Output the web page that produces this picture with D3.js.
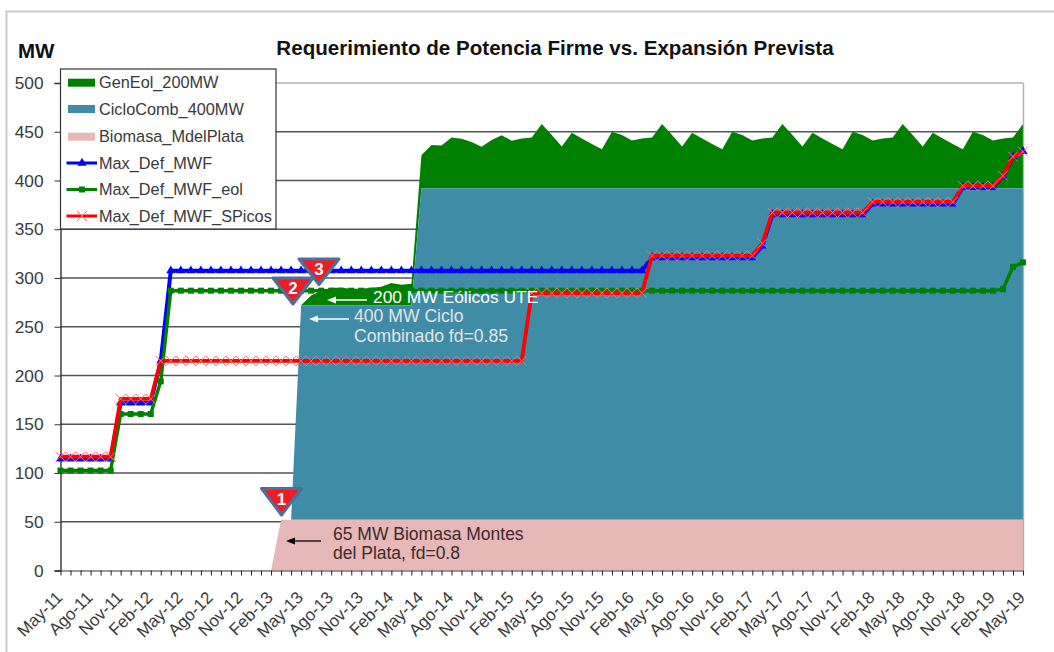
<!DOCTYPE html>
<html><head><meta charset="utf-8">
<script src="https://cdn.jsdelivr.net/npm/d3@7"></script>
<style>html,body{margin:0;padding:0;background:#fff}svg{display:block}text{font-family:"Liberation Sans",Arial,sans-serif}</style>
</head><body><svg id="c" width="1054" height="652"></svg>
<script>
const tickLabels=["May-11","Ago-11","Nov-11","Feb-12","May-12","Ago-12","Nov-12","Feb-13","May-13","Ago-13","Nov-13","Feb-14","May-14","Ago-14","Nov-14","Feb-15","May-15","Ago-15","Nov-15","Feb-16","May-16","Ago-16","Nov-16","Feb-17","May-17","Ago-17","Nov-17","Feb-18","May-18","Ago-18","Nov-18","Feb-19","May-19"];
const biomasa=[0,0,0,0,0,0,0,0,0,0,0,0,0,0,0,0,0,0,0,0,0,0,52,52,52,52,52,52,52,52,52,52,52,52,52,52,52,52,52,52,52,52,52,52,52,52,52,52,52,52,52,52,52,52,52,52,52,52,52,52,52,52,52,52,52,52,52,52,52,52,52,52,52,52,52,52,52,52,52,52,52,52,52,52,52,52,52,52,52,52,52,52,52,52,52,52,52];
const ciclo=[0,0,0,0,0,0,0,0,0,0,0,0,0,0,0,0,0,0,0,0,0,0,0,0,220,220,220,220,220,220,220,220,220,220,220,220,340,340,340,340,340,340,340,340,340,340,340,340,340,340,340,340,340,340,340,340,340,340,340,340,340,340,340,340,340,340,340,340,340,340,340,340,340,340,340,340,340,340,340,340,340,340,340,340,340,340,340,340,340,340,340,340,340,340,340,340,340];
const genEol=[0,0,0,0,0,0,0,0,0,0,0,0,0,0,0,0,0,0,0,0,0,0,0,0,0,10,15,18,18,17,17,18,19,23,21,22,34,44.5,44,52,50.7,47.5,42.7,49.5,54.5,48.8,51,52,66,54.6,43,57,51,45.5,40,58,54.6,49,51,52,66,54.6,43,57,51,45.5,40,58,54.6,49,51,52,66,54.6,43,57,51,45.5,40,58,54.6,49,51,52,66,54.6,43,57,51,45.5,40,58,54.6,49,51,52,66];
const maxDef=[114.5,114.5,114.5,114.5,114.5,114.5,172,172,172,172,215,307.5,307.5,307.5,307.5,307.5,307.5,307.5,307.5,307.5,307.5,307.5,307.5,307.5,307.5,307.5,307.5,307.5,307.5,307.5,307.5,307.5,307.5,307.5,307.5,307.5,307.5,307.5,307.5,307.5,307.5,307.5,307.5,307.5,307.5,307.5,307.5,307.5,307.5,307.5,307.5,307.5,307.5,307.5,307.5,307.5,307.5,307.5,307.5,321,321,321,321,321,321,321,321,321,321,321,333,365,365,365,365,365,365,365,365,365,365,376,376,376,376,376,376,376,376,376,393,393,393,393,404,424,430];
const maxDefEol=[102.5,102.5,102.5,102.5,102.5,102.5,160.5,160.5,160.5,160.5,194,287,287,287,287,287,287,287,287,287,287,287,287,287,287,287,287,287,287,287,287,287,287,287,287,287,287,287,287,287,287,287,287,287,287,287,287,287,287,287,287,287,287,287,287,287,287,287,287,287,287,287,287,287,287,287,287,287,287,287,287,287,287,287,287,287,287,287,287,287,287,287,287,287,287,287,287,287,287,287,287,287,287,287,288.5,311.5,316];
const maxDefSPicos=[116.7,116.7,116.7,116.7,116.7,116.7,176,176,176,176,215,215,215,215,215,215,215,215,215,215,215,215,215,215,215,215,215,215,215,215,215,215,215,215,215,215,215,215,215,215,215,215,215,215,215,215,215,284.5,284.5,284.5,284.5,284.5,284.5,284.5,284.5,284.5,284.5,284.5,284.5,323,323,323,323,323,323,323,323,323,323,323,335.5,367,367,367,367,367,367,367,367,367,367,378,378,378,378,378,378,378,378,378,394.5,394.5,394.5,394.5,405,424.5,429.6];
const yTicks=[0,50,100,150,200,250,300,350,400,450,500];
const legendNames=["GenEol_200MW","CicloComb_400MW","Biomasa_MdelPlata","Max_Def_MWF","Max_Def_MWF_eol","Max_Def_MWF_SPicos"];

const GREEN="#008000",TEAL="#3f8ca6",PINK="#e6b8b7",BLUE="#0000ff",RED="#ff0000",TXT="#3a3a3a";
const svg=d3.select("#c");
const x=d3.scaleLinear().domain([0,96]).range([60.5,1023]);
const y=d3.scaleLinear().domain([0,500]).range([570.5,83]);
const idx=d3.range(97);

svg.append("path").attr("d","M6.5,652V11.5H1054").attr("fill","none").attr("stroke","#cccccc").attr("stroke-width",2);

svg.append("g").selectAll("line").data(yTicks.filter(d=>d>0)).join("line")
 .attr("x1",x(0)).attr("x2",x(96)).attr("y1",d=>y(d)).attr("y2",d=>y(d))
 .attr("stroke",d=>d==500?"#b0b0b0":"#555").attr("stroke-width",1.4);

const stack=d3.stack().keys([0,1,2]).value((i,k)=>[biomasa,ciclo,genEol][k][i]);
const layers=stack(idx);
const area=d3.area().x(d=>x(d.data)).y0(d=>y(d[0])).y1(d=>y(d[1]));
const colors=[PINK,TEAL,GREEN];
[2,1,0].forEach(k=>svg.append("path").attr("d",area(layers[k])).attr("fill",colors[k]));

svg.append("line").attr("x1",1023.5).attr("x2",1023.5).attr("y1",83).attr("y2",570).attr("stroke","#b0b0b0").attr("stroke-width",1.4);

const yAxis=d3.axisLeft(y).tickValues(yTicks).tickSize(6).tickPadding(11);
const gy=svg.append("g").attr("transform",`translate(${x(0)},0)`).call(yAxis);
gy.select(".domain").attr("stroke","#222").attr("stroke-width",1.3);
gy.selectAll(".tick line").attr("stroke","#333");
gy.selectAll("text").attr("font-size",17.3).attr("fill",TXT).style("font-family",'"Liberation Sans"');
const xAxis=d3.axisBottom(x).tickValues(d3.range(0,97)).tickSize(5).tickSizeOuter(0).tickFormat(()=>"");
const gx=svg.append("g").attr("transform",`translate(0,${y(0)})`).call(xAxis);
gx.select(".domain").attr("stroke","#777").attr("stroke-width",1.6);
gx.selectAll(".tick line").attr("stroke","#222");
svg.append("g").selectAll("text").data(tickLabels).join("text")
 .attr("transform",(d,i)=>`translate(${x(i*3)+3},${y(0)+28}) rotate(-45)`)
 .attr("text-anchor","end").attr("font-size",17).attr("fill",TXT).text(d=>d);

const line=d3.line().x((d,i)=>x(i)).y(d=>y(d));
function drawLine(vals,col,w){svg.append("path").attr("d",line(vals)).attr("fill","none").attr("stroke",col).attr("stroke-width",w).attr("stroke-linejoin","round");}
const tri=d3.symbol().type(d3.symbolTriangle).size(36);
drawLine(maxDef,BLUE,4);
svg.append("g").selectAll("path").data(maxDef).join("path").attr("d",tri).attr("fill",BLUE)
 .attr("transform",(d,i)=>`translate(${x(i)},${y(d)})`);
drawLine(maxDefEol,GREEN,3.4);
svg.append("g").selectAll("rect").data(maxDefEol).join("rect").attr("x",(d,i)=>x(i)-3).attr("y",d=>y(d)-3).attr("width",6).attr("height",6).attr("fill",GREEN);
drawLine(maxDefSPicos,RED,3.8);
svg.append("g").selectAll("path").data(maxDefSPicos).join("path")
 .attr("d",(d,i)=>{const a=x(i),b=y(d),r=5;return `M${a-r},${b-r}L${a+r},${b+r}M${a-r},${b+r}L${a+r},${b-r}`;})
 .attr("stroke","#ff7070").attr("stroke-width",1).attr("fill","none");

svg.append("text").attr("x",555).attr("y",54.5).attr("text-anchor","middle").attr("font-size",20.6).attr("font-weight","bold").attr("fill","#111").text("Requerimiento de Potencia Firme vs. Expansión Prevista");
svg.append("text").attr("x",18).attr("y",58).attr("font-size",20.5).attr("font-weight","bold").attr("fill","#111").text("MW");

const lg=svg.append("g");
lg.append("rect").attr("x",60.5).attr("y",69).attr("width",215.5).attr("height",160).attr("fill","#fff").attr("stroke","#333").attr("stroke-width",1.2);
const ly=[82.7,109,136.7,163,189.5,216];
const lc=[GREEN,TEAL,PINK,BLUE,GREEN,RED];
legendNames.forEach((n,i)=>{
 if(i<3) lg.append("rect").attr("x",68).attr("y",ly[i]-4).attr("width",27).attr("height",8).attr("fill",lc[i]);
 else lg.append("line").attr("x1",66.5).attr("x2",97).attr("y1",ly[i]).attr("y2",ly[i]).attr("stroke",lc[i]).attr("stroke-width",3);
 lg.append("text").attr("x",99).attr("y",ly[i]+5.6).attr("font-size",16.3).attr("fill",TXT).text(n);
});
lg.append("path").attr("d",d3.symbol().type(d3.symbolTriangle).size(36)).attr("fill",BLUE).attr("transform",`translate(82,${ly[3]})`);
lg.append("rect").attr("x",79).attr("y",ly[4]-3).attr("width",6).attr("height",6).attr("fill",GREEN);
lg.append("path").attr("d",`M77,${ly[5]-5}L87,${ly[5]+5}M77,${ly[5]+5}L87,${ly[5]-5}`).attr("stroke","#ff7070").attr("fill","none");

function arrow(x1,x2,yy,c){
 svg.append("line").attr("x1",x1).attr("x2",x2+6).attr("y1",yy).attr("y2",yy).attr("stroke",c).attr("stroke-width",1.3);
 svg.append("path").attr("d",`M${x2},${yy}L${x2+9},${yy-3.5}V${yy+3.5}Z`).attr("fill",c);
}
arrow(367,327,300,"#fff");
arrow(349,309,319,"#fff");
arrow(321,286,541,"#000");
svg.append("text").attr("x",373).attr("y",303).attr("font-size",17.4).attr("fill","#fff").text("200 MW Eólicos UTE");
svg.append("text").attr("x",354).attr("y",322).attr("font-size",17.6).attr("fill","#e4e4e4").text("400 MW Ciclo");
svg.append("text").attr("x",354).attr("y",341.5).attr("font-size",17.6).attr("fill","#e4e4e4").text("Combinado fd=0.85");
svg.append("text").attr("x",333).attr("y",540).attr("font-size",17.5).attr("fill","#402a2a").text("65 MW Biomasa Montes");
svg.append("text").attr("x",333).attr("y",559).attr("font-size",17.5).attr("fill","#402a2a").text("del Plata, fd=0.8");

const badges=[{n:"1",cx:281.5,top:488.5,bot:516},{n:"2",cx:293,top:278,bot:305},{n:"3",cx:319,top:259,bot:285.5}];
const bg=svg.append("g").selectAll("g").data(badges).join("g");
bg.append("path").attr("d",d=>`M${d.cx-20},${d.top}H${d.cx+20}L${d.cx},${d.bot-1}Z`).attr("fill","#ee1c25").attr("stroke","#4f6f98").attr("stroke-width",3).attr("stroke-linejoin","round");
bg.append("text").attr("x",d=>d.cx).attr("y",d=>d.top+16).attr("text-anchor","middle").attr("font-size",17).attr("font-weight","bold").attr("fill","#fff").text(d=>d.n);
</script></body></html>
